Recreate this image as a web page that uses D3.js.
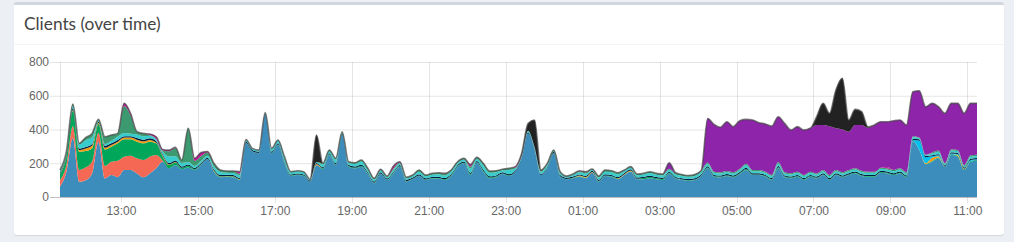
<!DOCTYPE html>
<html>
<head>
<meta charset="utf-8">
<script src="https://cdn.jsdelivr.net/npm/d3@7"></script>
<style>
  html, body { margin: 0; padding: 0; background: #ecf0f5; }
  .box {
    position: absolute; left: 14px; top: 2px; width: 990px; height: 230px;
    background: #fff; border-top: 3px solid #d2d6de; border-radius: 3px;
    box-shadow: 0 1px 1px rgba(0,0,0,0.1);
  }
  .box-header { height: 39px; border-bottom: 1px solid #f4f4f4; }
  svg { position: absolute; left: 0; top: 0; }
</style>
</head>
<body>
<div class="box"><div class="box-header"></div></div>
<svg id="chart" width="1014" height="242"></svg>
<script>
// Clients over time, 10 minute slots starting 11:25
const yTicks = [0, 200, 400, 600, 800];
const xTickLabels = ["13:00", "15:00", "17:00", "19:00", "21:00", "23:00", "01:00", "03:00", "05:00", "07:00", "09:00", "11:00"];

// Series, bottom of the stack first
const blue = [62,150,348,91,100,140,328,110,130,117,
  160,160,140,117,140,170,209,170,190,165,
  175,160,190,223,150,117,120,117,101,318,
  269,259,486,259,308,200,124,130,124,91,
  190,165,249,190,367,180,170,180,136,81,
  136,101,140,180,91,105,124,101,109,109,
  101,125,180,200,130,203,150,111,117,136,
  124,150,229,377,278,130,170,259,120,105,
  111,120,111,144,91,124,120,105,130,150,
  105,105,111,105,101,140,109,101,97,101,
  125,170,120,117,124,117,136,160,130,130,
  120,101,170,117,111,120,101,120,110,130,
  101,130,117,130,140,125,120,120,144,140,
  130,140,117,330,278,194,209,229,176,249,
  239,160,209,215];
const salmon = [38,40,72,69,76,69,53,74,79,98,
  79,85,89,102,99,79,8,0,0,0,
  0,0,0,0,0,0,0,0,0,0,
  0,0,0,0,0,0,0,0,0,0,
  0,0,0,0,0,0,0,0,0,0,
  0,0,0,0,0,0,0,0,0,0,
  0,0,0,0,0,0,0,0,0,0,
  0,0,0,0,0,0,0,0,0,0,
  0,0,0,0,0,0,0,0,0,0,
  0,0,0,0,0,0,0,0,0,0,
  0,0,0,0,0,0,0,0,0,0,
  0,0,0,0,0,0,0,0,0,0,
  0,0,0,0,0,0,0,0,0,0,
  0,0,0,0,0,0,0,0,0,0,
  0,0,0,0];
const green = [35,50,91,108,96,79,51,98,89,103,
  103,97,99,99,89,69,25,20,15,8,
  10,5,4,2,4,4,3,4,3,2,
  2,2,0,3,3,4,3,3,3,0,
  0,5,4,4,2,4,4,4,4,4,
  3,2,3,3,3,3,4,3,3,4,
  4,4,3,3,6,3,6,5,4,3,
  4,0,0,0,0,0,3,2,3,2,
  3,3,3,0,4,4,4,3,2,3,
  3,8,8,6,6,3,3,3,3,3,
  3,5,4,4,5,4,5,6,4,4,
  4,4,6,4,4,4,4,4,4,4,
  4,4,4,4,4,4,4,4,4,4,
  4,4,4,3,2,2,4,5,4,5,
  5,4,5,5];
const orange = [3,5,5,10,15,15,8,10,10,10,
  10,10,12,12,10,5,5,3,3,0,
  0,0,0,0,3,2,2,2,2,0,
  0,0,0,0,0,0,0,0,0,0,
  5,0,0,0,0,0,0,0,0,0,
  0,0,0,0,0,0,0,0,0,0,
  0,0,0,0,0,0,0,0,0,0,
  0,0,0,0,0,0,0,0,0,0,
  0,4,4,4,0,0,0,3,3,4,
  0,0,0,0,0,0,0,0,0,0,
  0,0,0,0,0,0,0,0,0,0,
  0,0,0,0,0,0,0,0,0,0,
  0,0,0,0,0,0,0,0,0,0,
  0,0,0,0,0,5,20,8,0,0,
  6,4,0,0];
const cyan = [0,0,0,0,0,0,0,0,0,0,
  0,0,0,0,0,0,0,0,0,0,
  0,0,0,0,0,0,0,0,0,0,
  0,0,0,0,0,0,0,0,0,0,
  0,0,0,0,0,0,0,0,0,0,
  0,0,0,0,0,0,0,0,0,0,
  0,0,0,0,0,0,0,0,0,0,
  0,0,0,0,0,0,0,0,0,0,
  0,0,0,0,0,0,0,0,0,0,
  0,0,0,0,0,0,0,0,0,0,
  0,0,0,0,0,0,0,0,0,0,
  0,0,0,0,0,0,0,0,0,0,
  0,0,0,0,0,0,0,0,0,0,
  0,0,0,5,55,35,8,5,0,4,
  5,0,6,4];
const navy = [6,8,10,10,10,10,8,12,10,10,
  8,8,10,10,10,8,8,8,8,8,
  8,7,7,7,7,7,7,7,7,7,
  7,7,7,7,7,7,7,7,7,7,
  7,7,7,7,7,7,7,7,7,7,
  7,7,7,7,7,7,7,7,7,7,
  7,7,7,7,7,7,7,7,7,7,
  7,7,7,7,7,7,7,7,7,7,
  7,7,7,7,7,7,7,7,7,7,
  7,7,7,7,7,7,7,7,7,7,
  7,7,7,7,7,7,7,7,7,7,
  7,7,7,7,7,7,7,7,7,7,
  7,7,7,7,7,7,7,7,7,7,
  7,7,7,7,7,7,7,7,7,7,
  7,7,7,7];
const teal = [8,9,15,25,40,40,6,10,15,20,
  20,15,20,20,15,10,15,40,25,20,
  14,12,12,12,18,18,12,12,15,10,
  8,8,5,14,15,20,12,12,12,4,
  5,15,12,20,6,12,14,20,15,12,
  12,9,12,8,10,10,15,12,13,15,
  15,15,12,12,25,14,25,20,18,12,
  25,12,8,8,10,12,12,6,12,6,
  9,12,14,7,14,15,15,16,12,10,
  14,14,16,14,14,12,14,14,13,14,
  14,14,12,12,12,12,12,16,12,12,
  12,12,16,12,12,12,12,12,12,12,
  12,12,12,12,12,12,12,12,12,12,
  12,12,12,10,8,6,10,14,8,10,
  10,8,12,12];
const seagreen = [8,8,10,5,15,24,6,43,34,19,
  160,111,17,17,5,4,5,30,50,18,
  200,30,30,20,18,12,10,12,10,3,
  2,2,2,5,5,8,4,4,4,3,
  0,8,6,8,5,6,8,8,8,7,
  6,5,7,6,6,5,10,7,8,9,
  10,9,7,7,12,8,12,11,10,6,
  10,5,0,0,0,6,8,4,8,4,
  6,6,8,4,8,10,10,10,6,6,
  7,6,8,8,8,6,8,8,7,8,
  8,8,7,7,6,7,7,8,7,7,
  7,7,8,7,7,7,7,7,7,7,
  7,7,7,7,7,7,7,7,7,7,
  7,7,7,5,3,2,6,7,5,8,
  7,6,8,8];
const magenta = [0,0,0,0,0,0,0,0,0,0,
  15,10,0,0,5,12,7,7,3,0,
  0,15,20,5,0,0,0,0,12,0,
  0,0,0,0,0,0,0,0,0,0,
  0,0,0,0,0,0,0,0,0,0,
  0,0,15,5,0,0,0,0,0,0,
  3,0,0,0,12,0,0,0,0,0,
  0,6,3,0,0,0,0,0,0,0,
  0,4,3,0,0,0,0,0,0,0,
  0,0,0,0,0,0,0,0,0,0,
  0,0,0,0,0,0,0,0,0,0,
  0,0,0,0,0,0,0,0,0,0,
  0,0,0,0,0,0,0,0,0,8,
  0,0,0,0,0,0,0,0,0,0,
  0,0,0,0];
const purple = [0,0,0,0,0,0,0,0,0,0,
  0,0,0,0,0,0,0,0,0,0,
  0,0,0,0,0,0,0,0,0,0,
  0,0,0,0,0,0,0,0,0,0,
  0,0,0,0,0,0,0,0,0,0,
  0,0,0,0,0,0,0,0,0,0,
  0,0,0,0,0,0,0,0,0,0,
  0,0,0,0,0,0,0,0,0,0,
  0,0,0,0,0,0,0,0,0,0,
  0,0,0,0,0,35,3,0,0,0,
  0,261,280,266,292,270,285,263,296,280,
  283,289,269,289,256,267,266,257,287,267,
  289,247,253,227,257,272,260,277,272,268,
  292,286,280,264,277,284,291,260,296,272,
  276,307,308,304];
const black = [0,0,0,0,0,0,0,0,0,0,
  0,0,0,0,0,0,0,0,0,0,
  0,0,0,0,0,0,0,0,0,0,
  0,0,0,0,0,0,0,0,0,0,
  160,0,0,0,0,0,0,0,0,0,
  0,0,0,0,0,0,0,0,0,0,
  0,0,0,0,0,0,0,0,0,0,
  0,0,12,44,161,5,0,0,0,0,
  0,0,0,0,0,0,0,0,0,0,
  0,0,0,0,0,0,0,0,0,0,
  0,0,0,0,0,0,0,0,0,0,
  0,0,0,0,0,0,0,0,49,128,
  76,227,303,69,92,79,5,0,0,0,
  0,0,0,0,0,0,0,0,0,0,
  0,0,0,0];

const seriesList = [
  {key: "blue", values: blue, color: "#3c8dbc"},
  {key: "salmon", values: salmon, color: "#f56954"},
  {key: "green", values: green, color: "#00a65a"},
  {key: "orange", values: orange, color: "#f39c12"},
  {key: "cyan", values: cyan, color: "#00c0ef"},
  {key: "navy", values: navy, color: "#001f3f"},
  {key: "teal", values: teal, color: "#39cccc"},
  {key: "seagreen", values: seagreen, color: "#3d9970"},
  {key: "magenta", values: magenta, color: "#c8129a"},
  {key: "purple", values: purple, color: "#8e24aa"},
  {key: "black", values: black, color: "#222222"}
];

const start = new Date(2020, 0, 1, 11, 25);
const times = blue.map((_, i) => d3.timeMinute.offset(start, i * 10));

const rows = times.map((t, i) => {
  const row = {time: t};
  seriesList.forEach(s => row[s.key] = s.values[i]);
  return row;
});

// Tick label -> date (hours up to 11 belong to the next day)
const xTicks = xTickLabels.map(lbl => {
  const h = +lbl.slice(0, 2);
  return new Date(2020, 0, h <= 11 ? 2 : 1, h, 0);
});

const plot = {left: 60, right: 977, top: 62, bottom: 197};

const x = d3.scaleTime()
  .domain([times[0], times[times.length - 1]])
  .range([plot.left, plot.right]);
const y = d3.scaleLinear()
  .domain([0, 800])
  .range([plot.bottom, plot.top]);

const svg = d3.select("#chart");
const font = "'Helvetica Neue', Helvetica, Arial, 'Liberation Sans', sans-serif";

// Title
svg.append("text")
  .attr("x", 24).attr("y", 30)
  .attr("font-family", "'Source Sans Pro', Lato, 'Open Sans', sans-serif")
  .attr("font-size", 17.3)
  .attr("fill", "#444")
  .text("Clients (over time)");

// Grid lines
const grid = svg.append("g");
grid.selectAll("line.h")
  .data(yTicks)
  .join("line")
  .attr("x1", plot.left - 10).attr("x2", plot.right)
  .attr("y1", d => y(d) + 0.5).attr("y2", d => y(d) + 0.5)
  .attr("stroke", d => d === 0 ? "rgba(0,0,0,0.25)" : "rgba(0,0,0,0.1)");
grid.selectAll("line.v")
  .data(xTicks)
  .join("line")
  .attr("x1", d => Math.round(x(d)) + 0.5).attr("x2", d => Math.round(x(d)) + 0.5)
  .attr("y1", plot.top).attr("y2", plot.bottom + 6)
  .attr("stroke", "rgba(0,0,0,0.1)");
grid.append("line")
  .attr("x1", plot.left + 0.5).attr("x2", plot.left + 0.5)
  .attr("y1", plot.top).attr("y2", plot.bottom)
  .attr("stroke", "rgba(0,0,0,0.1)");

// Stacked areas
const stack = d3.stack().keys(seriesList.map(s => s.key));
const layers = stack(rows);

const area = d3.area()
  .x(d => x(d.data.time))
  .y0(d => y(d[0]))
  .y1(d => y(d[1]))
  .curve(d3.curveMonotoneX);

svg.append("g")
  .selectAll("path")
  .data(layers)
  .join("path")
  .attr("d", area)
  .attr("fill", (d, i) => seriesList[i].color);

// Outline along the top of the stack
const topLine = d3.line()
  .x(d => x(d.data.time))
  .y(d => y(d[1]))
  .curve(d3.curveMonotoneX);
svg.append("path")
  .datum(layers[layers.length - 1])
  .attr("d", topLine)
  .attr("fill", "none")
  .attr("stroke", "rgba(70,70,70,0.7)")
  .attr("stroke-width", 1.6);

// Axes
const yAxis = svg.append("g")
  .attr("transform", `translate(${plot.left - 10},0)`)
  .call(d3.axisLeft(y).tickValues(yTicks).tickSize(0).tickPadding(1));
const xAxis = svg.append("g")
  .attr("transform", `translate(0,${plot.bottom})`)
  .call(d3.axisBottom(x).tickValues(xTicks).tickSize(0).tickPadding(9.5)
    .tickFormat((d, i) => xTickLabels[i]));

[yAxis, xAxis].forEach(a => {
  a.select(".domain").remove();
  a.selectAll("text")
    .attr("font-family", font)
    .attr("font-size", 12)
    .attr("fill", "#666");
});
</script>
</body>
</html>
